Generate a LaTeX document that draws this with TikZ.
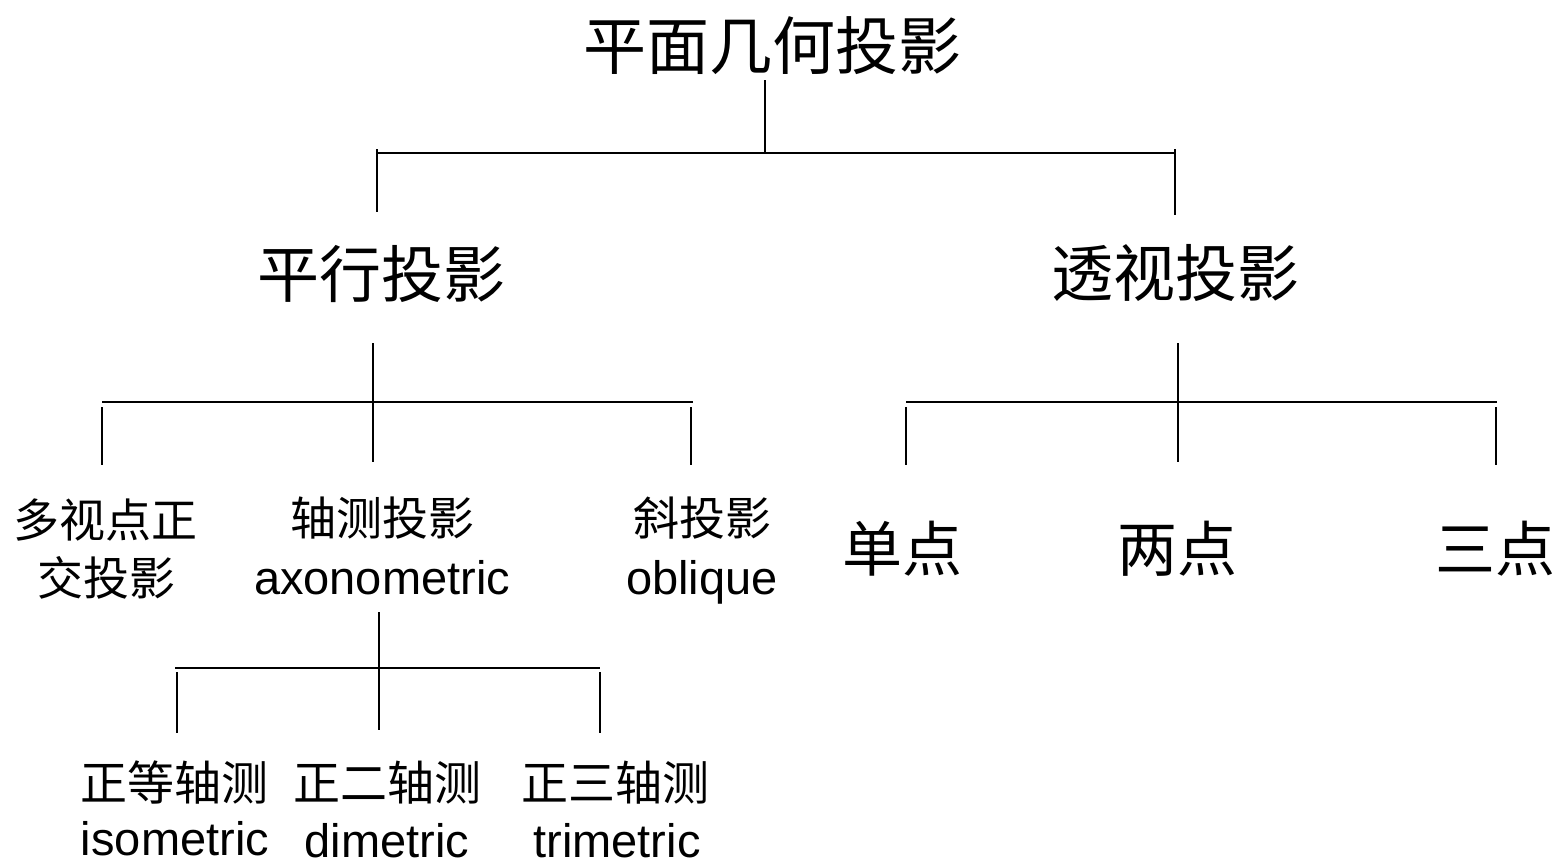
\documentclass[tikz,border=0pt]{standalone}
\usepackage{fontspec}
\setmainfont{Liberation Sans}
\newfontfamily\cjk{Noto Sans CJK SC}
\tikzset{
  link/.style={line width=2.6pt, line cap=butt},
  zh/.style={font=\cjk, inner sep=0pt, anchor=base},
  en/.style={font=\fontsize{47}{50}\selectfont, inner sep=0pt, anchor=base},
  zhA/.style={zh, font=\cjk\fontsize{63}{66}\selectfont},
  zhB/.style={zh, font=\cjk\fontsize{62}{66}\selectfont},
  zhC/.style={zh, font=\cjk\fontsize{46}{50}\selectfont},
  zhD/.style={zh, font=\cjk\fontsize{60}{64}\selectfont},
  zhE/.style={zh, font=\cjk\fontsize{47}{50}\selectfont},
}
\begin{document}
\begin{tikzpicture}[x=1pt, y=-1pt]
\useasboundingbox (0,0) rectangle (1557,860);
% texts
\node[zhA] (root) at (772,69) {平面几何投影};
\node[zhB] (par) at (381,297) {平行投影};
\node[zhB] (per) at (1175,296) {透视投影};
\node[zhC] (mv1) at (105,537) {多视点正};
\node[zhC] (mv2) at (106,595) {交投影};
\node[zhC] (ax) at (382,535) {轴测投影};
\node[en] (axe) at (382,594) {axonometric};
\node[zhC] (ob) at (702,535) {斜投影};
\node[en] (obe) at (702,594) {oblique};
\node[zhD] (p1) at (902,571) {单点};
\node[zhD] (p2) at (1177,571) {两点};
\node[zhD] (p3) at (1495,571) {三点};
\node[zhE] (iso) at (174,800) {正等轴测};
\node[en] (isoe) at (175,855) {isometric};
\node[zhE] (dim) at (387,800) {正二轴测};
\node[en] (dime) at (387,857) {dimetric};
\node[zhE] (tri) at (615,800) {正三轴测};
\node[en] (trie) at (617,857) {trimetric};
% junction coordinates
\coordinate (r0) at (765,80);   \coordinate (r1) at (765,153);
\coordinate (rl) at (376,153);  \coordinate (rr) at (1175,153);
\coordinate (rl1) at (377,149); \coordinate (rl2) at (377,212);
\coordinate (rr1) at (1175,149);\coordinate (rr2) at (1175,215);
\coordinate (a0) at (373,343);  \coordinate (a1) at (373,462);
\coordinate (al) at (102,402);  \coordinate (ar) at (693,402);
\coordinate (al1) at (102,407); \coordinate (al2) at (102,465);
\coordinate (ar1) at (691,407); \coordinate (ar2) at (691,465);
\coordinate (b0) at (1178,343); \coordinate (b1) at (1178,462);
\coordinate (bl) at (906,402);  \coordinate (br) at (1497,402);
\coordinate (bl1) at (906,407); \coordinate (bl2) at (906,465);
\coordinate (br1) at (1496,407);\coordinate (br2) at (1496,465);
\coordinate (c0) at (379,612);  \coordinate (c1) at (379,730);
\coordinate (cl) at (175,668);  \coordinate (cr) at (600,668);
\coordinate (cl1) at (177,672); \coordinate (cl2) at (177,733);
\coordinate (cr1) at (600,672); \coordinate (cr2) at (600,733);
% connectors
\draw[link] (r0) -- (r1);
\draw[link] (rl) -- (rr);
\draw[link] (rl1) -- (rl2);
\draw[link] (rr1) -- (rr2);
\draw[link] (a0) -- (a1);
\draw[link] (al) -- (ar);
\draw[link] (al1) -- (al2);
\draw[link] (ar1) -- (ar2);
\draw[link] (b0) -- (b1);
\draw[link] (bl) -- (br);
\draw[link] (bl1) -- (bl2);
\draw[link] (br1) -- (br2);
\draw[link] (c0) -- (c1);
\draw[link] (cl) -- (cr);
\draw[link] (cl1) -- (cl2);
\draw[link] (cr1) -- (cr2);
\end{tikzpicture}
\end{document}
